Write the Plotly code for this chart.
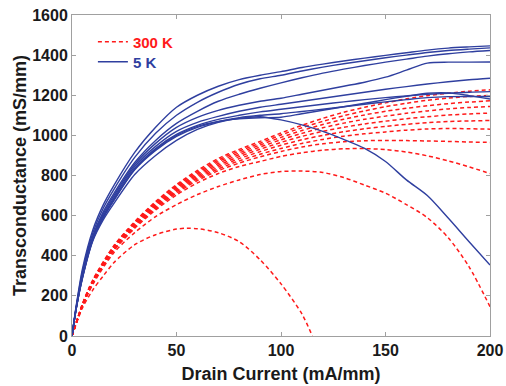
import plotly.graph_objects as go

# ---------------- data ----------------
RED_X = [0, 5, 10, 20, 30, 40, 50, 60, 70, 80, 90, 100, 110, 120, 130, 140, 150, 160, 170, 180, 190, 200]
red_c1 = [0, 160, 280, 450, 570, 670, 755, 825, 885, 930, 970, 1012, 1050, 1085, 1115, 1140, 1162, 1182, 1198, 1210, 1220, 1227]
red_c2 = [0, 158, 278, 447, 566, 665, 749, 818, 877, 922, 961, 1002, 1038, 1070, 1098, 1122, 1143, 1160, 1175, 1186, 1194, 1199]
red_c3 = [0, 157, 276, 444, 562, 660, 743, 811, 869, 913, 952, 990, 1024, 1054, 1080, 1102, 1120, 1135, 1148, 1158, 1166, 1172]
red_c4 = [0, 156, 274, 441, 558, 655, 737, 804, 860, 904, 942, 978, 1010, 1038, 1061, 1080, 1096, 1110, 1122, 1132, 1139, 1144]
red_c5 = [0, 155, 272, 438, 554, 650, 731, 797, 851, 894, 931, 965, 995, 1020, 1040, 1057, 1071, 1083, 1093, 1101, 1107, 1111]
red_c6 = [0, 154, 270, 435, 550, 645, 725, 790, 842, 884, 919, 951, 978, 1000, 1018, 1033, 1045, 1055, 1063, 1069, 1072, 1074]
red_c7 = [0, 153, 268, 432, 546, 640, 719, 783, 833, 873, 906, 935, 960, 980, 996, 1008, 1017, 1026, 1032, 1034, 1033, 1031]
red_c8 = [0, 152, 266, 429, 542, 635, 712, 775, 824, 862, 893, 920, 942, 958, 968, 973, 975, 974, 972, 970, 967, 965]
red_c9 = [0, 150, 263, 425, 537, 628, 703, 763, 810, 845, 870, 895, 913, 926, 933, 934, 929, 917, 898, 873, 843, 810]
red_c10 = [0, 148, 258, 415, 515, 595, 655, 705, 745, 778, 805, 820, 822, 815, 790, 752, 712, 655, 590, 490, 345, 146]
RED_LOW_X = [0, 5, 10, 15, 20, 30, 40, 50, 55, 60, 70, 80, 90, 100, 110, 115]
red_c11 = [0, 140, 230, 300, 365, 455, 505, 533, 537, 535, 515, 470, 380, 260, 110, 0]

BLUE_X = [0, 2, 5, 10, 15, 20, 30, 40, 50, 60, 70, 80, 90, 100, 110, 120, 130, 140, 150, 160, 170, 180, 190, 200]
blue_b1 = [0, 150, 335, 530, 655, 750, 915, 1040, 1140, 1200, 1245, 1278, 1300, 1318, 1338, 1355, 1371, 1385, 1399, 1412, 1425, 1435, 1441, 1446]
blue_b2 = [0, 145, 322, 515, 638, 730, 890, 1010, 1100, 1165, 1215, 1255, 1282, 1300, 1321, 1340, 1357, 1372, 1387, 1400, 1413, 1423, 1430, 1436]
blue_b3 = [0, 140, 310, 500, 620, 710, 865, 975, 1060, 1120, 1170, 1205, 1235, 1262, 1287, 1310, 1330, 1348, 1365, 1380, 1395, 1407, 1416, 1423]
blue_b4 = [0, 140, 305, 495, 610, 700, 855, 960, 1040, 1090, 1125, 1150, 1170, 1185, 1205, 1225, 1245, 1265, 1290, 1325, 1360, 1365, 1365, 1366]
blue_b5 = [0, 138, 300, 490, 600, 690, 845, 945, 1020, 1065, 1095, 1120, 1140, 1155, 1170, 1185, 1200, 1215, 1230, 1243, 1256, 1267, 1277, 1285]
blue_b6 = [0, 136, 295, 485, 595, 680, 835, 935, 1005, 1050, 1080, 1100, 1117, 1130, 1143, 1155, 1167, 1178, 1188, 1197, 1205, 1210, 1215, 1218]
blue_b7 = [0, 135, 290, 480, 590, 675, 828, 925, 995, 1040, 1068, 1088, 1100, 1108, 1119, 1130, 1143, 1155, 1167, 1178, 1188, 1193, 1194, 1194]
blue_b8 = [0, 135, 292, 482, 592, 678, 832, 930, 1000, 1045, 1070, 1082, 1088, 1090, 1108, 1125, 1143, 1160, 1178, 1195, 1210, 1212, 1198, 1181]
blue_b9 = [0, 135, 288, 475, 580, 660, 805, 900, 975, 1030, 1065, 1085, 1093, 1077, 1052, 1020, 980, 935, 870, 778, 700, 588, 470, 354]

X_TICKS = [0, 50, 100, 150, 200]
Y_TICKS = [0, 200, 400, 600, 800, 1000, 1200, 1400, 1600]

RED = "#ff1a1a"
BLUE = "#2f3f9f"

red_sets = [(RED_X, c) for c in [red_c1, red_c2, red_c3, red_c4, red_c5, red_c6,
                                   red_c7, red_c8, red_c9, red_c10]] + [(RED_LOW_X, red_c11)]
blue_sets = [blue_b1, blue_b2, blue_b3, blue_b4, blue_b5, blue_b6, blue_b7, blue_b8, blue_b9]

fig = go.Figure()
for i, (xs, ys) in enumerate(red_sets):
    fig.add_trace(go.Scatter(
        x=xs, y=ys, mode="lines",
        line=dict(color=RED, width=1.5, dash="4px,3px", shape="spline", smoothing=0.8),
        name='<b><span style="color:#ff1a1a">300 K</span></b>',
        legend="legend", showlegend=(i == 0),
    ))
for i, ys in enumerate(blue_sets):
    fig.add_trace(go.Scatter(
        x=BLUE_X, y=ys, mode="lines",
        line=dict(color=BLUE, width=1.4, shape="spline", smoothing=0.8),
        name='<b><span style="color:#2f3f9f">5 K</span></b>',
        legend="legend2", showlegend=(i == 0),
    ))

axis_common = dict(
    showline=True, linecolor="#a0a0a0", linewidth=1, mirror="ticks",
    ticks="inside", ticklen=4, tickcolor="#a0a0a0",
    showgrid=False, zeroline=False, automargin=False,
    tickfont=dict(family="Liberation Sans, Arial", size=16, color="#1a1a1a"),
)

legend_common = dict(xanchor="left", yanchor="top", bgcolor="rgba(0,0,0,0)", borderwidth=0,
                     font=dict(family="Liberation Sans, Arial", size=15), itemwidth=30)

fig.update_layout(
    width=506, height=386,
    margin=dict(l=72, r=16, t=15, b=50),
    paper_bgcolor="white", plot_bgcolor="white",
    font=dict(family="Liberation Sans, Arial", color="#1a1a1a"),
    xaxis=dict(range=[0, 200], tickvals=X_TICKS,
               ticktext=[f"<b>{v}</b>" for v in X_TICKS],
               title=dict(text="<b>Drain Current (mA/mm)</b>", font=dict(size=18), standoff=9),
               **axis_common),
    yaxis=dict(range=[0, 1600], tickvals=Y_TICKS,
               ticktext=[f"<b>{v}</b>" for v in Y_TICKS],
               title=dict(text="<b>Transconductance (mS/mm)</b>", font=dict(size=18), standoff=0),
               **axis_common),
    legend=dict(x=0.05, y=0.967, **legend_common),
    legend2=dict(x=0.05, y=0.905, **legend_common),
    showlegend=True,
)

fig.write_html("out.html")
